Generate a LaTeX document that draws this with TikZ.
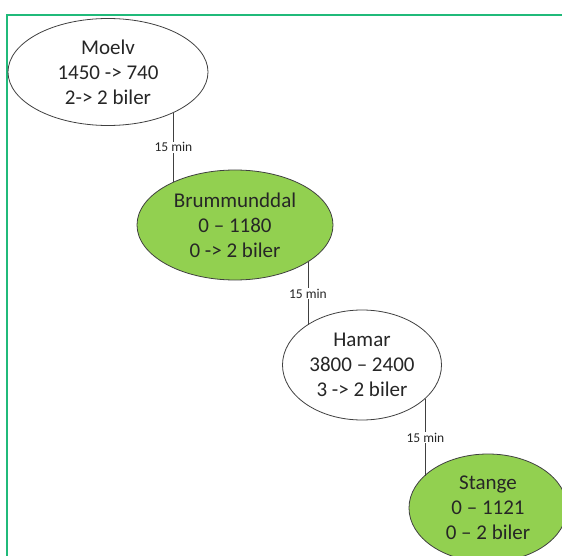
\documentclass[tikz,border=0pt]{standalone}
\usepackage{fontspec}
\setmainfont{Carlito}
\usetikzlibrary{shapes.geometric}
\definecolor{framegreen}{RGB}{32,186,122}
\definecolor{stopgreen}{RGB}{146,208,80}
\definecolor{edgegray}{RGB}{64,64,64}
\tikzset{
	stop/.style={ellipse, draw=edgegray, line width=.8pt, inner sep=0pt, align=center,
		text=black!85, font=\fontsize{21}{25}\selectfont},
	busy/.style={stop, fill=stopgreen},
	conn/.style={draw=edgegray, line width=.8pt},
	lbl/.style={fill=white, inner sep=1pt, text=black!85, font=\fontsize{13.5}{15}\selectfont}
}

\begin{document}
\begin{tikzpicture}[x=1pt,y=-1pt]
\clip (0,0) rectangle (562,556);
\fill[white] (0,0) rectangle (562,556);
\draw[framegreen, line width=2pt] (7,556) -- (7,15) -- (562,15);
% stations
\node[stop, minimum width=200pt, minimum height=107pt] (moelv) at (108,72) {Moelv\\1450 -> 740\\2-> 2 biler};
\node[busy, minimum width=196pt, minimum height=110pt] (brum) at (235,225) {Brummunddal\\0 – 1180\\0 -> 2 biler};
\node[stop, minimum width=159pt, minimum height=110pt] (hamar) at (362,365) {Hamar\\3800 – 2400\\3 -> 2 biler};
\node[busy, minimum width=158pt, minimum height=108pt] (stange) at (488,508) {Stange\\0 – 1121\\0 – 2 biler};
% links
\foreach \a/\b/\p/\q in {moelv/brum/-32/145, brum/hamar/-27/144, hamar/stange/-28/154}
	\draw[conn] (\a.\p) -- node[lbl]{15 min} (\a.\p |- \b.\q);
\end{tikzpicture}
\end{document}
